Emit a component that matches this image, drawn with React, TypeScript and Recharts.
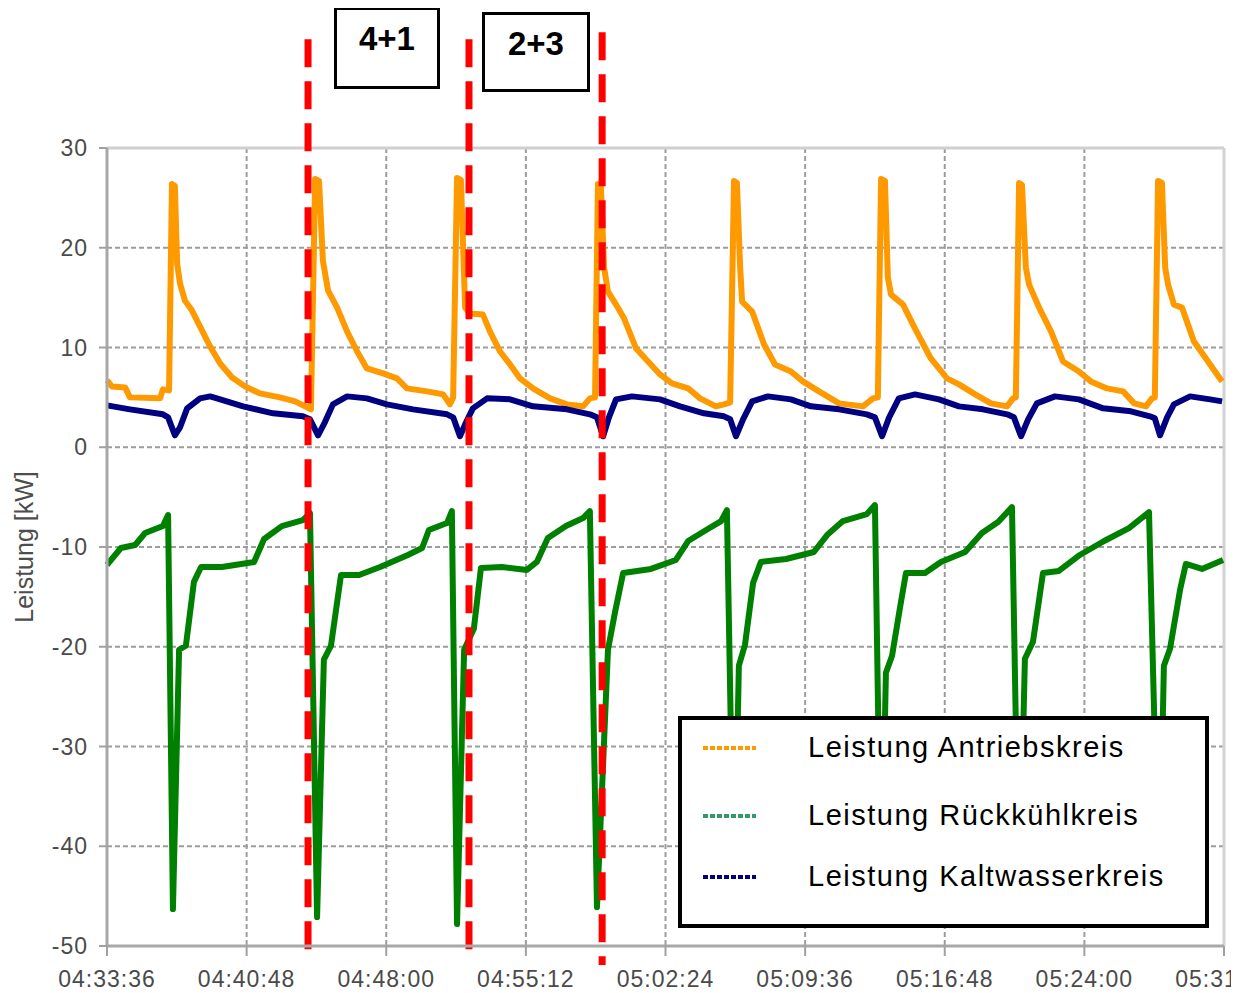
import React from 'react';
import {
  LineChart,
  Line,
  XAxis,
  YAxis,
  CartesianGrid,
  ReferenceLine,
  Legend
} from 'recharts';

const tickLabels = ['04:33:36', '04:40:48', '04:48:00', '04:55:12', '05:02:24', '05:09:36', '05:16:48', '05:24:00', '05:31:12'];
const yTicks = [-50, -40, -30, -20, -10, 0, 10, 20, 30];

// [Sekunden seit 04:33:36, kW]
const antrieb: [number, number][] = [
  [0, 6.7], [15, 6.1], [56, 6.0], [71, 5.0], [164, 4.9], [173, 5.8], [192, 5.7], [201, 26.4], [210, 26.2],
  [217, 18.4], [226, 16.4], [241, 14.7], [263, 13.7], [288, 12.1], [319, 10.1], [350, 8.4], [387, 7.0],
  [427, 6.1], [473, 5.4], [535, 5.0], [582, 4.6], [613, 4.1], [631, 3.8], [644, 26.9], [656, 26.7],
  [668, 18.7], [684, 15.7], [712, 14.0], [743, 11.6], [774, 9.6], [804, 7.9], [854, 7.4], [897, 6.9],
  [928, 5.9], [990, 5.6], [1040, 5.3], [1061, 4.3], [1071, 5.0], [1083, 27.0], [1095, 26.8], [1108, 14.0],
  [1123, 13.4], [1163, 13.3], [1185, 11.6], [1216, 9.6], [1247, 8.3], [1278, 6.9], [1318, 5.9], [1371, 4.9],
  [1423, 4.3], [1473, 4.1], [1494, 4.9], [1510, 5.0], [1519, 26.4], [1528, 26.2], [1538, 18.0], [1550, 15.6],
  [1575, 14.3], [1600, 12.9], [1637, 9.9], [1674, 8.6], [1711, 7.3], [1748, 6.4], [1798, 5.9], [1835, 4.9],
  [1884, 4.1], [1909, 4.3], [1928, 4.5], [1940, 26.7], [1949, 26.5], [1959, 18.0], [1965, 14.6], [1996, 13.6],
  [2033, 10.3], [2067, 8.3], [2116, 7.6], [2153, 6.6], [2203, 5.6], [2265, 4.4], [2339, 4.1], [2370, 4.9],
  [2385, 5.0], [2395, 26.9], [2407, 26.7], [2416, 17.0], [2426, 15.3], [2463, 14.3], [2500, 11.9], [2549, 8.9],
  [2599, 6.9], [2636, 6.3], [2686, 5.3], [2735, 4.4], [2785, 4.1], [2803, 4.9], [2812, 5.0], [2822, 26.5],
  [2831, 26.3], [2843, 18.0], [2853, 16.3], [2884, 14.0], [2921, 11.6], [2958, 8.6], [3007, 7.6], [3044, 6.6],
  [3094, 5.9], [3144, 5.6], [3178, 4.4], [3215, 4.1], [3233, 4.9], [3242, 5.0], [3252, 26.7], [3264, 26.5],
  [3274, 18.0], [3283, 16.3], [3301, 14.3], [3326, 14.0], [3363, 10.6], [3400, 8.9], [3450, 6.6]
];

const rueckkuehl: [number, number][] = [
  [0, -11.8], [43, -10.1], [87, -9.8], [118, -8.6], [173, -7.9], [189, -6.8], [204, -46.3], [223, -20.3],
  [244, -19.9], [269, -13.5], [291, -12.0], [356, -12.0], [455, -11.5], [486, -9.2], [541, -7.9], [606, -7.3],
  [628, -6.6], [650, -47.1], [671, -21.3], [693, -19.9], [724, -12.8], [780, -12.8], [845, -12.0], [931, -10.8],
  [975, -10.1], [996, -8.3], [1052, -7.6], [1067, -6.4], [1083, -47.8], [1105, -20.3], [1135, -18.2],
  [1157, -12.1], [1222, -12.0], [1299, -12.3], [1330, -11.5], [1364, -9.1], [1420, -7.9], [1473, -7.1],
  [1494, -6.4], [1516, -46.1], [1550, -20.3], [1572, -16.5], [1597, -12.6], [1683, -12.2], [1760, -11.3],
  [1798, -9.4], [1859, -8.2], [1900, -7.4], [1918, -6.3], [1940, -46.0], [1955, -21.9], [1974, -19.8],
  [1999, -13.6], [2023, -11.5], [2101, -11.2], [2187, -10.5], [2228, -8.8], [2277, -7.4], [2351, -6.7],
  [2376, -5.8], [2395, -46.0], [2410, -22.6], [2429, -20.9], [2454, -16.0], [2472, -12.6], [2531, -12.6],
  [2580, -11.5], [2655, -10.5], [2707, -8.6], [2757, -7.5], [2800, -6.0], [2822, -46.0], [2840, -21.2],
  [2865, -19.5], [2896, -12.6], [2945, -12.4], [3010, -10.8], [3085, -9.4], [3162, -8.1], [3224, -6.5],
  [3255, -46.0], [3270, -21.9], [3289, -20.2], [3320, -14.3], [3338, -11.7], [3388, -12.2], [3453, -11.3]
];

const kaltwasser: [number, number][] = [
  [0, 4.2], [71, 3.8], [173, 3.3], [189, 3.0], [210, 1.2], [226, 2.0], [248, 3.9], [288, 4.9], [319, 5.1],
  [340, 4.9], [421, 4.1], [514, 3.4], [606, 3.1], [628, 2.8], [653, 1.2], [674, 2.5], [699, 4.3], [743, 5.1],
  [804, 4.9], [866, 4.3], [947, 3.8], [1052, 3.3], [1071, 3.0], [1092, 1.1], [1111, 2.5], [1132, 3.9],
  [1176, 4.9], [1247, 4.8], [1318, 4.1], [1423, 3.8], [1494, 3.3], [1516, 3.0], [1535, 1.1], [1553, 3.0],
  [1575, 4.8], [1624, 5.1], [1711, 4.8], [1773, 4.1], [1847, 3.4], [1909, 3.1], [1928, 2.8], [1946, 1.1],
  [1968, 2.8], [1996, 4.6], [2045, 5.1], [2116, 4.8], [2178, 4.1], [2265, 3.8], [2351, 3.3], [2376, 3.0],
  [2398, 1.1], [2420, 3.0], [2450, 4.9], [2500, 5.3], [2574, 4.8], [2636, 4.1], [2710, 3.8], [2785, 3.3],
  [2806, 3.0], [2828, 1.1], [2850, 2.8], [2877, 4.4], [2933, 5.1], [3007, 4.8], [3082, 3.9], [3168, 3.6],
  [3227, 3.1], [3242, 2.9], [3258, 1.2], [3280, 3.0], [3301, 4.3], [3351, 5.1], [3413, 4.8], [3450, 4.6]
];

// Umschaltzeitpunkte (rote Linien)
const umschaltZeit = [622, 1120, 1532];
const umschaltOben = [40.9, 40.9, 41.6];
const umschaltUnten = [-50.9, -50.9, -51.9];

const series = [
  { name: 'Leistung Antriebskreis', color: '#ff9900', legendColor: '#ff9900', points: antrieb },
  { name: 'Leistung Rückkühlkreis', color: '#008000', legendColor: '#339966', points: rueckkuehl },
  { name: 'Leistung Kaltwasserkreis', color: '#000080', legendColor: '#000080', points: kaltwasser }
];

const toSec = (s: string) => {
  const [h, m, x] = s.split(':').map(Number);
  return h * 3600 + m * 60 + x;
};
const t0 = toSec(tickLabels[0]);
const xTicks = tickLabels.map((l) => toSec(l) - t0);
const xMax = xTicks[xTicks.length - 1];

const font = '"Liberation Sans", Arial, sans-serif';
const rowTops = [11, 79, 140];

const LegendBox = () => (
  <div
    style={{
      width: '100%',
      height: '100%',
      boxSizing: 'border-box',
      border: '4px solid #000',
      background: '#fff',
      position: 'relative',
      fontFamily: font
    }}
  >
    {series.map((s, i) => (
      <div
        key={s.name}
        style={{ position: 'absolute', left: 21, top: rowTops[i], display: 'flex', alignItems: 'center', whiteSpace: 'nowrap' }}
      >
        <svg width={53} height={6}>
          <line x1={0} y1={3} x2={53} y2={3} stroke={s.legendColor} strokeWidth={4} strokeDasharray="5 2" />
        </svg>
        <span style={{ marginLeft: 52, fontSize: 29, letterSpacing: 1.5, color: '#000', lineHeight: '33px' }}>
          {s.name}
        </span>
      </div>
    ))}
  </div>
);

const boxStyle: React.CSSProperties = {
  position: 'absolute',
  border: '3.5px solid #000',
  boxSizing: 'border-box',
  textAlign: 'center',
  fontWeight: 'bold',
  fontSize: 33,
  background: '#fff',
  fontFamily: font
};

const App: React.FC = () => {
  return (
    <div style={{ position: 'relative', width: 1239, height: 993, margin: '-8px 0 0 -8px', overflow: 'hidden', fontFamily: font }}>
      <LineChart width={1239} height={993} margin={{ top: 148, right: 15, bottom: 17, left: 12 }}>
        <CartesianGrid stroke="#9c9c9c" strokeWidth={2} strokeDasharray="5 3" />
        <XAxis
          dataKey="t"
          type="number"
          domain={[0, xMax]}
          ticks={xTicks}
          interval={0}
          tickFormatter={(v: number) => tickLabels[xTicks.indexOf(v)] ?? ''}
          height={30}
          tickSize={10}
          tickMargin={15}
          axisLine={{ stroke: '#a8a8a8', strokeWidth: 3 }}
          tickLine={{ stroke: '#a0a0a0', strokeWidth: 2 }}
          tick={{ fill: '#4a4a4a', fontSize: 23, letterSpacing: 1 }}
        />
        <YAxis
          type="number"
          domain={[-50, 30]}
          ticks={yTicks}
          interval={0}
          width={95}
          tickSize={8}
          tickMargin={11}
          axisLine={{ stroke: '#a8a8a8', strokeWidth: 3 }}
          tickLine={{ stroke: '#a0a0a0', strokeWidth: 2 }}
          tick={{ fill: '#4a4a4a', fontSize: 23, letterSpacing: 1 }}
          label={{
            value: 'Leistung [kW]',
            angle: -90,
            position: 'insideLeft',
            offset: 12,
            style: { textAnchor: 'middle', fontSize: 25, fill: '#4d4d4d' }
          }}
        />
        <ReferenceLine y={30} stroke="#cfcfcf" strokeWidth={3} />
        <ReferenceLine x={xMax} stroke="#d2d2d2" strokeWidth={3} />
        <Legend
          layout="vertical"
          align="center"
          verticalAlign="middle"
          content={() => <LegendBox />}
          wrapperStyle={{ left: 678, top: 716, width: 531, height: 212 }}
        />
        {series.map((s) => (
          <Line
            key={s.name}
            name={s.name}
            data={s.points.map(([t, v]) => ({ t, v }))}
            dataKey="v"
            type="linear"
            stroke={s.color}
            strokeWidth={6}
            strokeLinejoin="round"
            dot={false}
            activeDot={false}
            isAnimationActive={false}
          />
        ))}
        {umschaltZeit.map((t, i) => (
          <ReferenceLine
            key={t}
            segment={[{ x: t, y: umschaltOben[i] }, { x: t, y: umschaltUnten[i] }]}
            stroke="#ff0000"
            strokeWidth={7}
            strokeDasharray="28 14"
            ifOverflow="visible"
          />
        ))}
      </LineChart>
      <div style={{ ...boxStyle, left: 334, top: 7, width: 106, height: 82, paddingTop: 10 }}>4+1</div>
      <div style={{ ...boxStyle, left: 482, top: 12, width: 108, height: 80, paddingTop: 10 }}>2+3</div>
    </div>
  );
};

export default App;
